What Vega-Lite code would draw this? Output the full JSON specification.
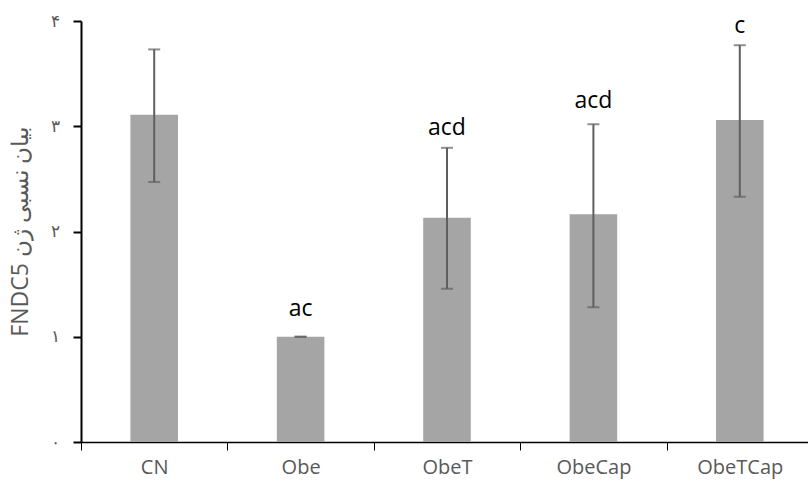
{
  "$schema": "https://vega.github.io/schema/vega-lite/v6.json",
  "width": 727,
  "height": 421,
  "autosize": "none",
  "padding": {"left": 81, "top": 21, "right": 0, "bottom": 43},
  "background": "white",
  "config": {
    "view": {"stroke": null},
    "font": "Open Sans",
    "axisX": {
      "labelFontSize": 20,
      "labelColor": "#595959",
      "labelPadding": 7,
      "labelAngle": 0,
      "tickBand": "extent",
      "tickSize": 8,
      "tickColor": "#000000",
      "tickWidth": 1,
      "domainColor": "#000000",
      "domainWidth": 1.5
    },
    "axisY": {
      "titleFontSize": 23,
      "titleFontWeight": "normal",
      "titleColor": "#595959",
      "titlePadding": 18,
      "labelFontSize": 17,
      "labelColor": "#595959",
      "labelPadding": 14,
      "tickSize": 8,
      "tickColor": "#000000",
      "tickWidth": 2,
      "domainColor": "#000000",
      "domainWidth": 2,
      "grid": false
    }
  },
  "data": {
    "values": [
      {"group": "CN", "mean": 3.11, "lower": 2.47, "upper": 3.73, "label": "", "labelY": 3.9},
      {"group": "Obe", "mean": 1.0, "lower": 1.0, "upper": 1.0, "label": "ac", "labelY": 1.197},
      {"group": "ObeT", "mean": 2.13, "lower": 1.456, "upper": 2.795, "label": "acd", "labelY": 2.915},
      {"group": "ObeCap", "mean": 2.165, "lower": 1.28, "upper": 3.02, "label": "acd", "labelY": 3.178},
      {"group": "ObeTCap", "mean": 3.06, "lower": 2.33, "upper": 3.77, "label": "c", "labelY": 3.884}
    ]
  },
  "encoding": {
    "x": {
      "field": "group",
      "type": "nominal",
      "sort": null,
      "scale": {"paddingInner": 0, "paddingOuter": 0, "range": [0, 732]},
      "axis": {"title": null}
    }
  },
  "layer": [
    {
      "mark": {"type": "bar", "color": "#A5A5A5", "width": {"band": 0.325}},
      "encoding": {
        "y": {
          "field": "mean",
          "type": "quantitative",
          "scale": {"domain": [0, 4]},
          "axis": {
            "title": "FNDC5 بیان نسبی ژن",
            "values": [0, 1, 2, 3, 4],
            "labelExpr": "['۰','۱','۲','۳','۴'][datum.value]"
          }
        }
      }
    },
    {
      "mark": {"type": "rule", "color": "#5f5f5f", "strokeWidth": 2},
      "encoding": {
        "y": {"field": "lower", "type": "quantitative"},
        "y2": {"field": "upper"}
      }
    },
    {
      "mark": {"type": "tick", "color": "#5f5f5f", "thickness": 2, "size": 12},
      "encoding": {"y": {"field": "upper", "type": "quantitative"}}
    },
    {
      "mark": {"type": "tick", "color": "#5f5f5f", "thickness": 2, "size": 12},
      "encoding": {"y": {"field": "lower", "type": "quantitative"}}
    },
    {
      "mark": {"type": "text", "fontSize": 23, "color": "#000000", "baseline": "alphabetic", "align": "center"},
      "encoding": {
        "y": {"field": "labelY", "type": "quantitative"},
        "text": {"field": "label"}
      }
    }
  ]
}
